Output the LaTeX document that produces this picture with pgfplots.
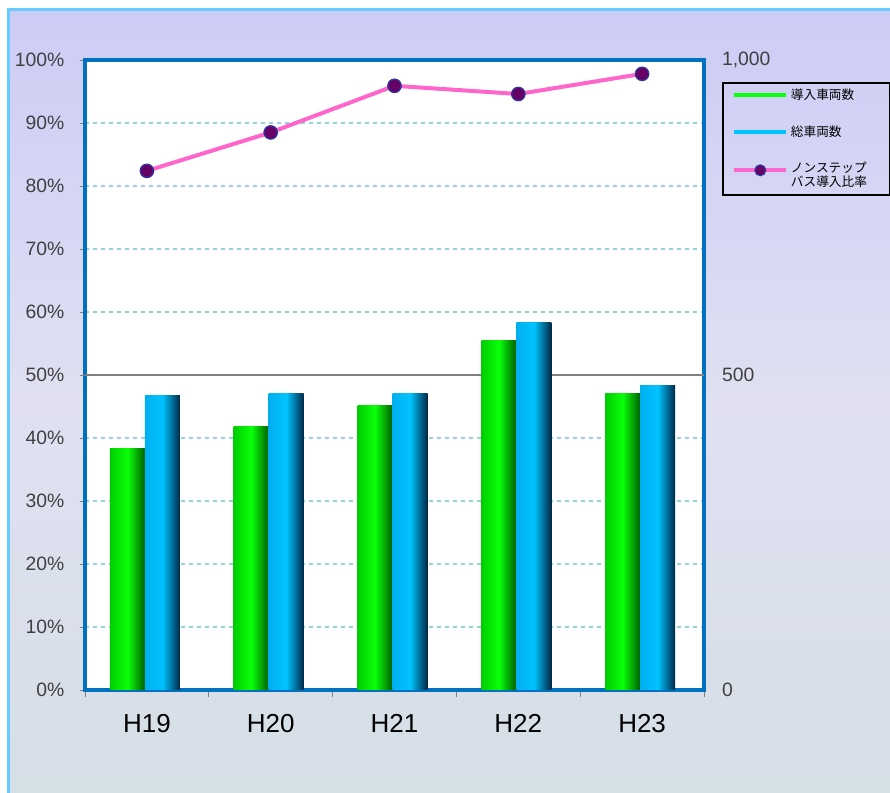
\documentclass[border=0pt]{standalone}
\usepackage{pgfplots}
\pgfplotsset{compat=1.18}
\usepackage{fontspec}
\setmainfont{Liberation Sans}
\newfontfamily\cjk{Noto Sans CJK JP}
\definecolor{axisblue}{RGB}{0,112,192}
\definecolor{gridblue}{RGB}{150,210,222}
\definecolor{bgtop}{RGB}{204,204,246}
\definecolor{bgmid}{RGB}{224,224,242}
\definecolor{bgbot}{RGB}{213,223,230}
\definecolor{edgeblue}{RGB}{102,204,255}
\definecolor{linepink}{RGB}{255,102,204}
\definecolor{mkfill}{RGB}{102,0,102}
\definecolor{mkdraw}{RGB}{51,51,153}
\definecolor{gL}{RGB}{0,205,0}
\definecolor{gM}{RGB}{10,255,10}
\definecolor{gR}{RGB}{0,95,0}
\definecolor{bL}{RGB}{0,175,240}
\definecolor{bM}{RGB}{0,195,255}
\definecolor{bR}{RGB}{0,40,70}
\definecolor{labgray}{RGB}{64,64,64}
\pgfplotsset{
  gbar/.style={ybar, bar width=26.25pt, bar shift=-14.625pt, draw=none, left color=gL, right color=gR, middle color=gM},
  bbar/.style={ybar, bar width=26.25pt, bar shift=11.625pt, draw=none, left color=bL, right color=bR, middle color=bM},
}
\begin{document}
\begin{tikzpicture}
% background
\fill[white] (-63.75pt,-77.25pt) rectangle (603.75pt,517.5pt);
\shade[top color=bgtop, bottom color=bgbot, middle color=bgmid] (-57.75pt,-77.25pt) rectangle (603.75pt,510.75pt);
\draw[edgeblue, line width=2.25pt] (-57pt,-77.25pt) -- (-57pt,510pt) -- (603.75pt,510pt);

% left axis: grid, labels
\begin{axis}[
  scale only axis, width=464.25pt, height=472.5pt,
  at={(0,0)}, anchor=south west,
  xmin=0.5, xmax=5.5, ymin=0, ymax=100,
  axis background/.style={fill=white},
  axis line style={draw=axisblue, line width=3pt},
  tick pos=left,
  xtick={1,...,5}, xticklabels={H19,H20,H21,H22,H23},
  minor xtick={0.5,1.5,...,5.5},
  major x tick style={draw=none},
  minor x tick style={draw=gray, line width=0.6pt},
  minor tick length=5pt,
  tick align=outside,
  ytick={0,10,...,100},
  y tick style={draw=gray, line width=0.6pt},
  major tick length=4pt,
  yticklabel={\pgfmathprintnumber{\tick}\%},
  /pgf/number format/assume math mode=true,
  yticklabel style={font=\fontsize{14.5}{17}\selectfont, text=labgray, xshift=-8pt},
  xticklabel style={font=\fontsize{19.5}{22}\selectfont, text=black, yshift=-11pt},
  ymajorgrids,
  grid style={dashed, gridblue, line width=0.8pt},
  extra y ticks={50}, extra y tick labels={},
  extra y tick style={grid style={solid, gray, line width=0.8pt}},
]
\end{axis}

% right axis: bars
\begin{axis}[
  scale only axis, width=464.25pt, height=472.5pt,
  at={(0,0)}, anchor=south west,
  xmin=0.5, xmax=5.5, ymin=0, ymax=1000,
  axis y line*=right, axis x line=none,
  axis line style={draw=none},
  ytick={0,500,1000},
  y tick style={draw=none},
  /pgf/number format/1000 sep={,},
  /pgf/number format/assume math mode=true,
  yticklabel style={font=\fontsize{14.5}{17}\selectfont, text=labgray, xshift=10pt},
]
% 導入車両数
\addplot[gbar] coordinates {(1,384)};
\addplot[gbar] coordinates {(2,419)};
\addplot[gbar] coordinates {(3,451)};
\addplot[gbar] coordinates {(4,554)};
\addplot[gbar] coordinates {(5,471)};
% 総車両数
\addplot[bbar] coordinates {(1,467)};
\addplot[bbar] coordinates {(2,471)};
\addplot[bbar] coordinates {(3,471)};
\addplot[bbar] coordinates {(4,584)};
\addplot[bbar] coordinates {(5,484)};
\end{axis}

% line
\begin{axis}[
  scale only axis, width=464.25pt, height=472.5pt,
  at={(0,0)}, anchor=south west,
  xmin=0.5, xmax=5.5, ymin=0, ymax=100,
  hide axis,
  clip=false,
  legend style={at={(1.029,0.965)}, anchor=north west, draw=black, line width=1.5pt,
    fill=none, font=\cjk\fontsize{9.5}{10.5}\selectfont, cells={align=left},
    row sep=14pt, inner xsep=7pt, inner ysep=2.5pt},
  legend cell align=left,
  legend image code/.code={\draw[mark repeat=2,mark phase=2,#1] plot coordinates {(0pt,0pt) (19.5pt,0pt) (39pt,0pt)};},
]
\addlegendimage{draw=gM, line width=3pt}
\addlegendentry{導入車両数}
\addlegendimage{draw=bM, line width=3pt}
\addlegendentry{総車両数}
\addplot[linepink, line width=3pt, mark=*, mark size=5pt, mark options={fill=mkfill, draw=mkdraw, line width=1pt},
  legend image post style={yshift=4pt, mark size=4pt}] coordinates {(1,82.4) (2,88.5) (3,95.9) (4,94.6) (5,97.8)};
\addlegendentry{ノンステップ\\バス導入比率\hspace*{8pt}}
\end{axis}
\pgfresetboundingbox
\path[use as bounding box] (-63.75pt,-77.25pt) rectangle (603.75pt,517.5pt);
\end{tikzpicture}
\end{document}
